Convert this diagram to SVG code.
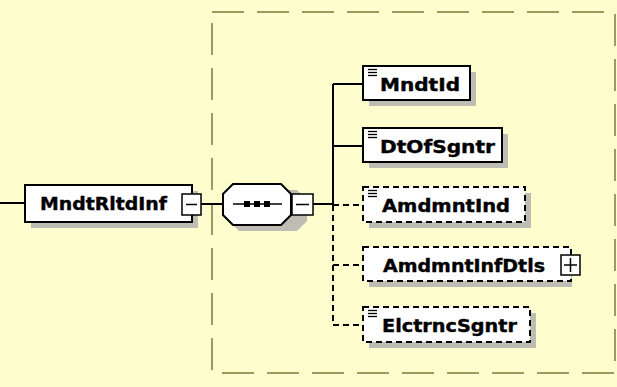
<svg xmlns="http://www.w3.org/2000/svg" width="617" height="387" viewBox="0 0 617 387">
<defs>
<style>
.bg{fill:#FEFDCE}
.frame{fill:none;stroke:#9E995C;stroke-width:2;stroke-dasharray:32 13}
.box{fill:#FFFFFF;stroke:#000;stroke-width:2}
.obox{fill:#FFFFFF;stroke:#000;stroke-width:2;stroke-dasharray:6 4}
.shadow{fill:#BDBDB4}
.lbl{font-family:"DejaVu Sans","Verdana",sans-serif;font-weight:bold;font-size:18px;fill:#000;stroke:#000;stroke-width:0.4}
.ln{stroke:#000;stroke-width:2;fill:none}
.dln{stroke:#000;stroke-width:2;fill:none;stroke-dasharray:6 4}
.btn{fill:#FFFFFF;stroke:#000;stroke-width:1.5}
.ico{stroke:#000;stroke-width:1.3}
</style>
</defs>
<rect class="bg" x="0" y="0" width="617" height="387"/>
<rect class="frame" x="212" y="12" width="403" height="361"/>

<g id="connectors">
<line class="ln" x1="0" y1="203" x2="25" y2="203"/>
<line class="ln" x1="201" y1="204" x2="223" y2="204"/>
<line class="ln" x1="313" y1="204" x2="333" y2="204"/>
<line class="ln" x1="333" y1="84" x2="333" y2="205"/>
<line class="dln" x1="333" y1="205" x2="333" y2="325"/>
<line class="ln" x1="333" y1="84" x2="363" y2="84"/>
<line class="ln" x1="333" y1="146" x2="363" y2="146"/>
<line class="dln" x1="333" y1="205" x2="363" y2="205"/>
<line class="dln" x1="333" y1="265" x2="363" y2="265"/>
<line class="dln" x1="333" y1="325" x2="363" y2="325"/>
</g>

<g id="MndtRltdInf">
<rect class="shadow" x="31" y="191" width="167" height="37"/>
<rect class="box" x="25" y="185" width="167" height="37"/>
<text class="lbl" x="40" y="210" textLength="127" lengthAdjust="spacingAndGlyphs">MndtRltdInf</text>
<rect class="btn" x="182" y="194" width="19" height="21"/>
<line class="ln" x1="186" y1="204.5" x2="197" y2="204.5" style="stroke-width:1.5"/>
</g>

<g id="sequence">
<path class="shadow" d="M239,190 H297 L307,200 V221 L297,231 H239 L229,221 V200 Z"/>
<path class="box" d="M233,184 H281 L291,194 V215 L281,225 H233 L223,215 V194 Z"/>
<line class="ln" x1="233" y1="204" x2="282" y2="204" style="stroke-width:1.5"/>
<rect x="244" y="201" width="6" height="6" fill="#000"/>
<rect x="254" y="201" width="6" height="6" fill="#000"/>
<rect x="264" y="201" width="6" height="6" fill="#000"/>
<rect class="btn" x="292" y="194" width="21" height="21"/>
<line class="ln" x1="296" y1="204.5" x2="309" y2="204.5" style="stroke-width:1.5"/>
</g>

<g id="MndtId">
<rect class="shadow" x="369" y="72" width="107" height="34"/>
<rect class="box" x="363" y="66" width="107" height="34"/>
<line class="ico" x1="368" y1="69.5" x2="377" y2="69.5"/>
<line class="ico" x1="368" y1="72.5" x2="377" y2="72.5"/>
<line class="ico" x1="368" y1="75.5" x2="377" y2="75.5"/>
<text class="lbl" x="380" y="91" textLength="80" lengthAdjust="spacingAndGlyphs">MndtId</text>
</g>

<g id="DtOfSgntr">
<rect class="shadow" x="369" y="134" width="139" height="34"/>
<rect class="box" x="363" y="128" width="139" height="34"/>
<line class="ico" x1="368" y1="131.5" x2="377" y2="131.5"/>
<line class="ico" x1="368" y1="134.5" x2="377" y2="134.5"/>
<line class="ico" x1="368" y1="137.5" x2="377" y2="137.5"/>
<text class="lbl" x="380" y="153" textLength="115" lengthAdjust="spacingAndGlyphs">DtOfSgntr</text>
</g>

<g id="AmdmntInd">
<rect class="shadow" x="369" y="193" width="162" height="35"/>
<rect class="obox" x="363" y="187" width="162" height="35"/>
<line class="ico" x1="368" y1="190.5" x2="377" y2="190.5"/>
<line class="ico" x1="368" y1="193.5" x2="377" y2="193.5"/>
<line class="ico" x1="368" y1="196.5" x2="377" y2="196.5"/>
<text class="lbl" x="382" y="212" textLength="128" lengthAdjust="spacingAndGlyphs">AmdmntInd</text>
</g>

<g id="AmdmntInfDtls">
<rect class="shadow" x="369" y="253" width="203" height="34"/>
<rect class="obox" x="363" y="247" width="208" height="34"/>
<text class="lbl" x="383" y="272" textLength="162" lengthAdjust="spacingAndGlyphs">AmdmntInfDtls</text>
<rect class="btn" x="561" y="255" width="19" height="20"/>
<line class="ln" x1="564" y1="265" x2="577" y2="265" style="stroke-width:1.5"/>
<line class="ln" x1="570.5" y1="258" x2="570.5" y2="272" style="stroke-width:1.5"/>
</g>

<g id="ElctrncSgntr">
<rect class="shadow" x="369" y="313" width="167" height="35"/>
<rect class="obox" x="363" y="307" width="167" height="35"/>
<line class="ico" x1="368" y1="310.5" x2="377" y2="310.5"/>
<line class="ico" x1="368" y1="313.5" x2="377" y2="313.5"/>
<line class="ico" x1="368" y1="316.5" x2="377" y2="316.5"/>
<text class="lbl" x="382" y="332" textLength="135" lengthAdjust="spacingAndGlyphs">ElctrncSgntr</text>
</g>
</svg>
